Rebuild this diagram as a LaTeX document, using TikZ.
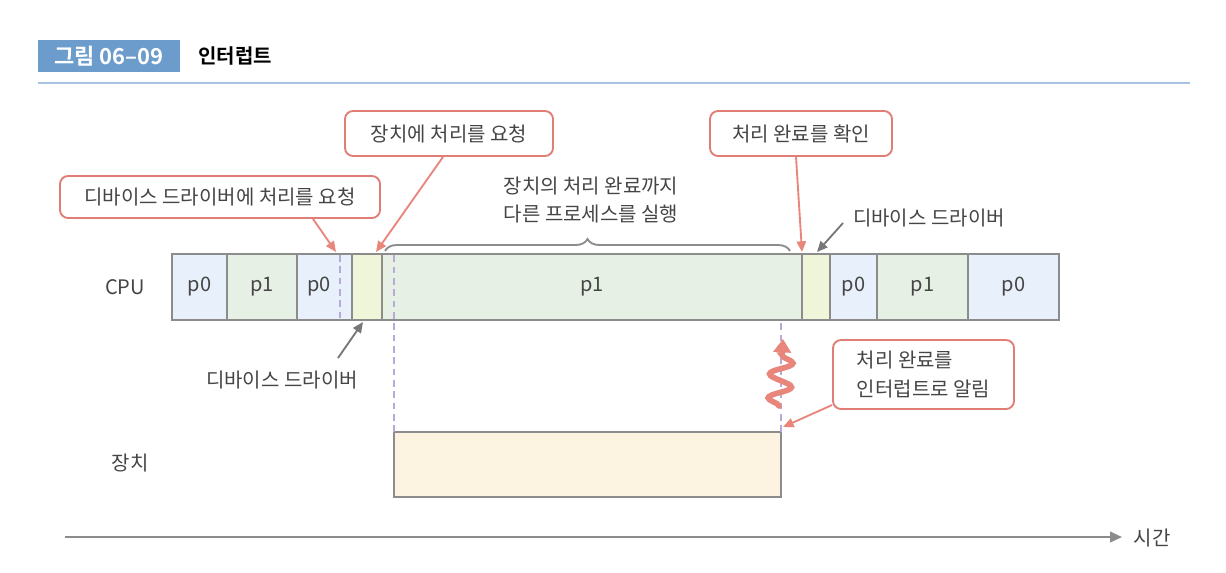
\documentclass[tikz,border=0pt]{standalone}
\usepackage{fontspec}
\setmainfont{Noto Sans CJK KR}[BoldFont={Noto Sans CJK KR Bold}]
\usetikzlibrary{arrows.meta,decorations.pathreplacing,decorations.pathmorphing,calc}
\definecolor{titlebg}{HTML}{6C9CCB}
\definecolor{titleline}{HTML}{A9C4E2}
\definecolor{pzero}{HTML}{E8F1FB}
\definecolor{pone}{HTML}{E6F0E5}
\definecolor{drv}{HTML}{EFF5D9}
\definecolor{devc}{HTML}{FDF3E1}
\definecolor{segline}{HTML}{8C8C8C}
\definecolor{txt}{HTML}{454545}
\definecolor{callred}{HTML}{E07D74}
\definecolor{arrred}{HTML}{E8867C}
\definecolor{dashc}{HTML}{B9A8D8}
\definecolor{grayarr}{HTML}{777777}
\tikzset{
  seg/.style={draw=segline,line width=1.7pt,inner sep=0pt,outer sep=0pt,minimum height=66*0.75pt,text=txt,font=\fontsize{15}{18}\selectfont},
  callout/.style={draw=callred,line width=1.4pt,rounded corners=6pt,fill=white,inner sep=0pt,text=txt,font=\fontsize{15}{18}\selectfont},
  lbl/.style={text=txt,font=\fontsize{15}{18}\selectfont,inner sep=0pt},
  redarrow/.style={draw=arrred,line width=1.4pt,-{Triangle[length=8pt,width=7pt]}},
  grayarrow/.style={draw=grayarr,line width=1.4pt,-{Triangle[length=8pt,width=7pt]}},
  dashline/.style={draw=dashc,line width=1.3pt,dash pattern=on 5pt off 3.5pt},
}
\begin{document}
\begin{tikzpicture}[x=0.75pt,y=-0.75pt]
\useasboundingbox (0,0) rectangle (1226,572);
% title
\node[fill=titlebg,minimum width=142*0.75pt,minimum height=32*0.75pt,inner sep=0pt,text=white,font=\fontsize{16.5}{18}\bfseries] (tbox) at (109,56) {그림 06–09};
\node[anchor=west,inner sep=0pt,font=\fontsize{15}{17}\bfseries] (ttl) at (198,56) {인터럽트};
\draw[titleline,line width=1.2pt] (38,83) -- (1190,83);
% CPU segments
\node[seg,fill=pzero,minimum width=55*0.75pt] (s1) at (199.5,287) {p0};
\node[seg,fill=pone,minimum width=70*0.75pt] (s2) at (262,287) {p1};
\node[seg,fill=pzero,minimum width=55*0.75pt] (s3) at (324.5,287) {};
\node[lbl] (s3t) at (319,287) {p0};
\node[seg,fill=drv,minimum width=30*0.75pt] (s4) at (367,287) {};
\node[seg,fill=pone,minimum width=420*0.75pt] (s5) at (592,287) {p1};
\node[seg,fill=drv,minimum width=28*0.75pt] (s6) at (816,287) {};
\node[seg,fill=pzero,minimum width=47*0.75pt] (s7) at (853.5,287) {p0};
\node[seg,fill=pone,minimum width=91*0.75pt] (s8) at (922.5,287) {p1};
\node[seg,fill=pzero,minimum width=91*0.75pt] (s9) at (1013.5,287) {p0};
\node[lbl] (cpu) at (125,287) {CPU};
% device
\node[seg,fill=devc,minimum width=387*0.75pt,minimum height=65*0.75pt] (dev) at (587.5,464.5) {};
\node[lbl] (devl) at (130,463) {장치};
% dashed lines
\coordinate (d1a) at (340,255);
\coordinate (d1b) at (340,320);
\draw[dashline] (d1a) -- (d1b);
\draw[dashline] (dev.north west) -- (dev.north west |- s5.north);
\draw[dashline] (dev.north east) -- (dev.north east |- s5.south);
% brace
\coordinate (b1) at (385,251);
\coordinate (b2) at (790,251);
\draw[segline,line width=1.4pt,decorate,decoration={brace,amplitude=9pt,aspect=0.5}] (b1) -- (b2);
\node[lbl,align=center,font=\fontsize{15}{20.5}\selectfont] (btxt) at (591,200) {장치의 처리 완료까지\\다른 프로세스를 실행};
% callouts
\node[callout,minimum width=320*0.75pt,minimum height=42*0.75pt] (c1) at (220,197) {디바이스 드라이버에 처리를 요청};
\node[callout,minimum width=208*0.75pt,minimum height=45*0.75pt] (c2) at (449,133.5) {장치에 처리를 요청};
\node[callout,minimum width=182*0.75pt,minimum height=45*0.75pt] (c3) at (801,133.5) {처리 완료를 확인};
\node[callout,minimum width=181*0.75pt,minimum height=69*0.75pt,align=left,font=\fontsize{15}{21.5}\selectfont] (c4) at (923.5,374.5) {처리 완료를\\인터럽트로 알림};
\coordinate (t1) at (336,252);
\coordinate (t2) at (376,252);
\coordinate (t3) at (802,252);
\coordinate (t4) at (783,427);
\draw[redarrow] (c1.south -| 313,0) -- (t1);
\draw[redarrow] (c2.south -| 443,0) -- (t2);
\draw[redarrow] (c3.south -| 796,0) -- (t3);
\draw[redarrow] (c4.south west |- 0,405) -- (t4);
% gray labels
\node[lbl] (drv1) at (282,380) {디바이스 드라이버};
\node[lbl] (drv2) at (929,218) {디바이스 드라이버};
\coordinate (g1) at (363,322);
\coordinate (g2) at (817,252);
\draw[grayarrow] (338,358) -- (g1);
\draw[grayarrow] (843,223) -- (g2);
% interrupt wave
\coordinate (w1) at (779,406);
\coordinate (w2) at (783,339);
\draw[arrred,line width=4.2pt,line cap=round,decorate,decoration={snake,amplitude=8.5pt,segment length=24*0.75pt,post length=7pt,pre length=0pt},-{Triangle[length=10pt,width=13pt]}] (w1) -- (w2);
% time axis
\coordinate (ax1) at (65,537);
\coordinate (ax2) at (1122,537);
\draw[segline,line width=1.6pt,-{Triangle[length=9pt,width=8pt]}] (ax1) -- (ax2);
\node[lbl] (time) at (1152,538) {시간};
\end{tikzpicture}
\end{document}
